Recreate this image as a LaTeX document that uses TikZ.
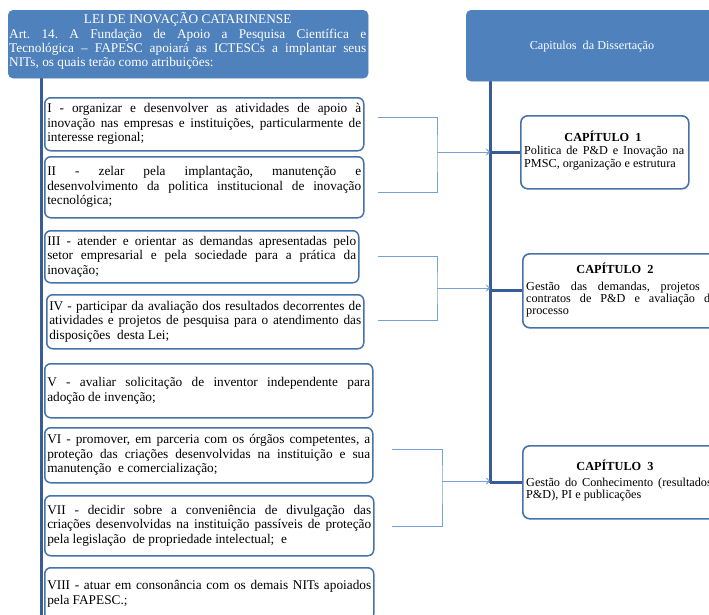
\documentclass[tikz,border=0pt]{standalone}
\usepackage{fontspec}
\setmainfont{Liberation Serif}
\usetikzlibrary{arrows.meta}
\definecolor{hdrblue}{RGB}{79,129,189}
\definecolor{boxline}{RGB}{70,114,170}
\definecolor{barblue}{RGB}{56,93,150}
\definecolor{thinblue}{RGB}{120,160,210}
\frenchspacing
\tikzset{
  hdrbox/.style={fill=hdrblue, draw=hdrblue, rounded corners=5pt, anchor=north west, inner sep=0pt},
  itembox/.style={draw=boxline, line width=1.5pt, rounded corners=6pt, fill=white, anchor=north west,
    inner xsep=2.5pt, inner ysep=0pt, align=justify, font=\fontsize{13.3}{14.5}\selectfont},
  chapbox/.style={draw=boxline, line width=1.6pt, rounded corners=7pt, fill=white, anchor=north west, inner sep=0pt},
  chaptitle/.style={font=\fontsize{12.3}{13}\selectfont\bfseries, inner sep=0pt},
  chapbody/.style={anchor=north west, inner sep=0pt, align=justify, font=\fontsize{12.2}{12.3}\selectfont},
  thickbar/.style={draw=barblue, line width=3pt},
  thinline/.style={draw=thinblue, line width=0.9pt},
  thinarrow/.style={draw=thinblue, line width=0.9pt, -{Straight Barb[length=3pt,width=6pt]}},
}
\begin{document}
\begin{tikzpicture}[x=1pt,y=-1pt]
\useasboundingbox (0,0) rectangle (709,614);
\fill[white] (0,0) rectangle (709,614);
\clip (0,0) rectangle (709,614);

% bars
\coordinate (lbartop) at (41,78);
\coordinate (lbarbot) at (41,620);
\coordinate (rbartop) at (490,81);
\coordinate (rbarbot) at (490,482.5);
\draw[thickbar] (lbartop) -- (lbarbot);
\draw[thickbar] (rbartop) -- (rbarbot);

% left header
\node[hdrbox, minimum width=360pt, minimum height=68pt] (lei) at (8,10) {};
\node[anchor=north west, inner sep=0pt, text width=357pt, align=justify, text=white,
      font=\fontsize{13.3}{14.2}\selectfont] (leitext) at (9,12.5)
  {{\centering LEI DE INOVAÇÃO CATARINENSE\par}
   Art. 14. A Fundação de Apoio a Pesquisa Científica e\linebreak
   Tecnológica – FAPESC apoiará as ICTESCs a implantar seus\linebreak
   NITs, os quais terão como atribuições:};

% right header
\node[hdrbox, minimum width=252pt, minimum height=71pt] (cap) at (466,10) {};
\node[text=white, inner sep=0pt, font=\fontsize{12.2}{14}\selectfont] (captext) at (592,47)
  {Capitulos\ \ da Dissertação};

% item boxes
\node[itembox, text width=314pt, minimum height=53pt] (i1) at (44,97)
  {I - organizar e desenvolver as atividades de apoio à\linebreak
   inovação nas empresas e instituições, particularmente de\linebreak
   interesse regional;};
\node[itembox, text width=314pt, minimum height=61pt] (i2) at (44,156)
  {II - zelar pela implantação, manutenção e\linebreak
   desenvolvimento da politica institucional de inovação\linebreak
   tecnológica;};
\node[itembox, text width=309pt, minimum height=52pt] (i3) at (44,230)
  {III - atender e orientar as demandas apresentadas pelo\linebreak
   setor empresarial e pela sociedade para a prática da\linebreak
   inovação;};
\node[itembox, text width=312pt, minimum height=54pt] (i4) at (46,294)
  {IV - participar da avaliação dos resultados decorrentes de\linebreak
   atividades e projetos de pesquisa para o atendimento das\linebreak
   disposições\ \ desta Lei;};
\node[itembox, text width=323pt, minimum height=54pt] (i5) at (44,363)
  {V - avaliar solicitação de inventor independente para\linebreak
   adoção de invenção;};
\node[itembox, text width=323pt, minimum height=55pt] (i6) at (44,427)
  {VI - promover, em parceria com os órgãos competentes, a\linebreak
   proteção das criações desenvolvidas na instituição e sua\linebreak
   manutenção\ \ e comercialização;};
\node[itembox, text width=324pt, minimum height=60pt] (i7) at (44,495)
  {VII - decidir sobre a conveniência de divulgação das\linebreak
   criações desenvolvidas na instituição passíveis de proteção\linebreak
   pela legislação\ \ de propriedade intelectual;\ \ e};
\node[itembox, text width=324pt, minimum height=52pt] (i8) at (44,567)
  {VIII - atuar em consonância com os demais NITs apoiados\linebreak
   pela FAPESC.;};

% chapter boxes
\node[chapbox, minimum width=168pt, minimum height=73pt] (c1) at (520,115) {};
\node[chaptitle] (t1) at (603,136) {CAPÍTULO\ \ 1};
\node[chapbody, text width=160pt, font=\fontsize{12.2}{13}\selectfont] (b1) at (524,145.5)
  {Politica de P\&D e Inovação na\linebreak PMSC, organização e estrutura};

\node[chapbox, minimum width=200pt, minimum height=74pt] (c2) at (522,253) {};
\node[chaptitle] (t2) at (615,268) {CAPÍTULO\ \ 2};
\node[chapbody, text width=190pt] (b2) at (526,281.5)
  {Gestão das demandas, projetos e\linebreak contratos de P\&D e avaliação do\linebreak processo};

\node[chapbox, minimum width=210pt, minimum height=73pt] (c3) at (522,445) {};
\node[chaptitle] (t3) at (615,465) {CAPÍTULO\ \ 3};
\node[chapbody, text width=202pt] (b3) at (526,477.5)
  {Gestão do Conhecimento (resultados de\linebreak P\&D), PI e publicações};

% thick connectors bar -> chapters
\draw[thickbar] (rbartop |- c1.west) -- (c1.west);
\draw[thickbar] (rbartop |- c2.west) -- (c2.west);
\draw[thickbar] (rbartop |- c3.west) -- (c3.west);

% thin brackets
\coordinate (g1a) at (378,117);
\coordinate (g1b) at (378,192);
\coordinate (g1m) at (437,152);
\coordinate (g2a) at (378,256);
\coordinate (g2b) at (378,320);
\coordinate (g2m) at (437,288);
\coordinate (g3a) at (392,449);
\coordinate (g3m) at (442,481);
\coordinate (g3c) at (392,526);

\draw[thinline] (g1a) -| (g1m) |- (g1b);
\draw[thinarrow] (g1m) -- (rbartop |- g1m);
\draw[thinline] (g2a) -| (g2m) |- (g2b);
\draw[thinarrow] (g2m) -- (rbartop |- g2m);
\draw[thinline] (g3a) -| (g3m) |- (g3c);
\draw[thinarrow] (g3m) -- (rbartop |- g3m);
\end{tikzpicture}
\end{document}
